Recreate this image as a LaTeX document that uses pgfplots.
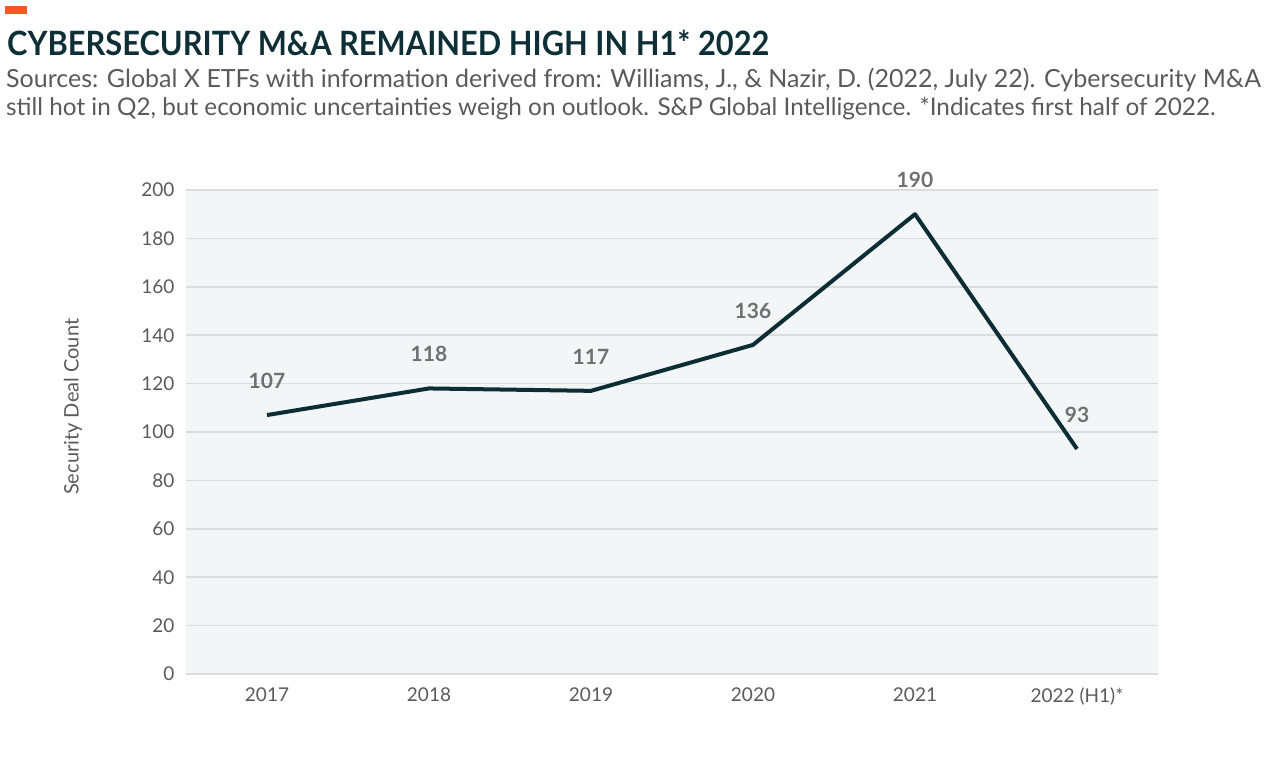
\documentclass[border=0pt]{standalone}
\usepackage{fontspec}
\setmainfont{Lato}
\usepackage{pgfplots}
\pgfplotsset{compat=1.18}
\definecolor{titlec}{HTML}{0F2F37}
\definecolor{linec}{HTML}{0B2D33}
\definecolor{orangec}{HTML}{F15A22}
\definecolor{bgc}{HTML}{F2F6F7}
\definecolor{gridc}{HTML}{DADCDE}
\definecolor{tickc}{HTML}{5A5A5A}
\definecolor{lblc}{HTML}{707070}
\begin{document}
\begin{tikzpicture}
\path[use as bounding box] (0pt,0pt) rectangle (1280pt,772pt);
\fill[orangec] (5pt,758pt) rectangle (27pt,766pt);
\node[anchor=base west, inner sep=0pt, text=titlec, xscale=0.92, transform shape, font=\fontsize{33.5}{38}\selectfont\bfseries] at (7pt,716pt) {CYBERSECURITY M\&A REMAINED HIGH IN H1* 2022};
\node[anchor=base west, inner sep=0pt, text=tickc, font=\fontsize{25}{28}\selectfont] at (6pt,684pt) {Sources: Global X ETFs with information derived from: Williams, J., \& Nazir, D. (2022, July 22). Cybersecurity M\&A};
\node[anchor=base west, inner sep=0pt, text=tickc, font=\fontsize{24.3}{28}\selectfont] at (6pt,656pt) {still hot in Q2, but economic uncertainties weigh on outlook. S\&P Global Intelligence. *Indicates first half of 2022.};
\begin{axis}[
  at={(186pt,98pt)}, anchor=south west,
  width=972pt, height=484pt, scale only axis,
  xmin=-0.5, xmax=5.5, ymin=0, ymax=200,
  ytick={0,20,...,200},
  xtick={0,1,2,3,4,5},
  xticklabels={2017,2018,2019,2020,2021,2022 (H1)*},
  axis line style={draw=none},
  major tick length=0pt,
  ymajorgrids,
  grid style={gridc, line width=1.5pt},
  axis background/.style={fill=bgc},
  ticklabel style={text=tickc, font=\fontsize{19}{21}\selectfont},
  /pgf/number format/assume math mode=true,
  yticklabel style={xshift=-8pt},
  xticklabel style={yshift=-10pt},
  ylabel={Security Deal Count},
  ylabel style={text=tickc, font=\fontsize{20}{22}\selectfont, at={(axis description cs:-0.1163,0.552)}, anchor=center},
  clip=false,
]
\addplot[linec, line width=4pt, line join=round,
  nodes near coords, point meta=explicit symbolic,
  every node near coord/.style={anchor=south, yshift=21pt, text=lblc, font=\fontsize{21}{24}\selectfont\bfseries}]
  coordinates {(0,107)[107] (1,118)[118] (2,117)[117] (3,136)[136] (4,190)[190] (5,93)[93]};
\end{axis}
\end{tikzpicture}
\end{document}
